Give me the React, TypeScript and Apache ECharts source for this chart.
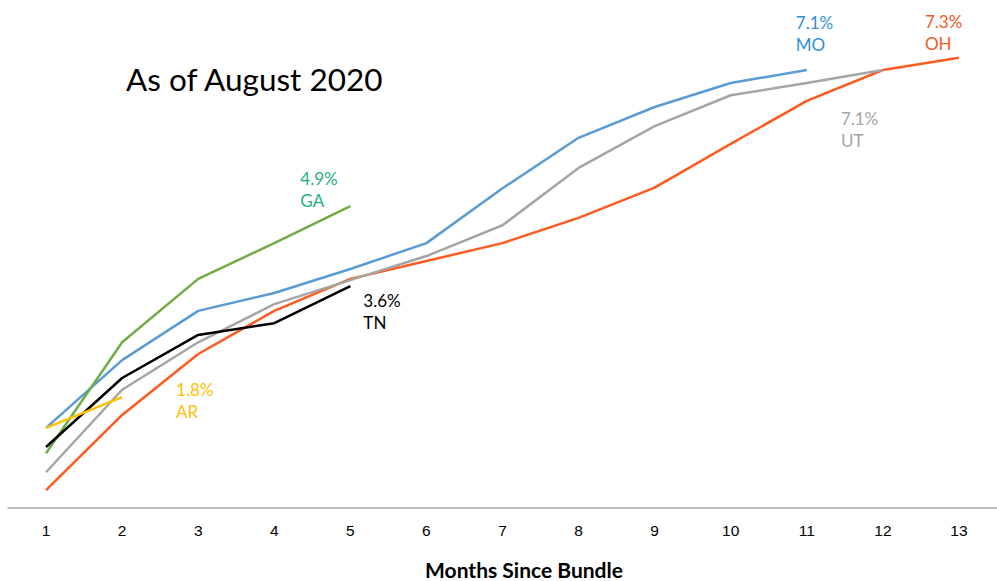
import React, { useEffect, useRef } from "react";
import * as echarts from "echarts";

const months = ["1", "2", "3", "4", "5", "6", "7", "8", "9", "10", "11", "12", "13"];
const stateNames = ["OH", "UT", "MO", "GA", "TN", "AR"];
const ohValues = [0.29, 1.51, 2.5, 3.2, 3.72, 4.01, 4.3, 4.71, 5.2, 5.91, 6.61, 7.11, 7.31];
const utValues = [0.58, 1.92, 2.69, 3.31, 3.7, 4.09, 4.59, 5.52, 6.2, 6.7, 6.9, 7.11];
const moValues = [1.3, 2.4, 3.2, 3.49, 3.88, 4.3, 5.19, 6.01, 6.51, 6.9, 7.11];
const gaValues = [0.89, 2.69, 3.72, 4.3, 4.9];
const tnValues = [0.99, 2.11, 2.81, 3.0, 3.6];
const arValues = [1.3, 1.8];
const endLabels = ["7.3%", "7.1%", "7.1%", "4.9%", "3.6%", "1.8%"];

const lineColors = ["#FF5A1F", "#A5A5A5", "#5B9BD5", "#70AD47", "#000000", "#FFC000"];
const labelColors = ["#F05A28", "#A5A5A5", "#2F8FD8", "#1FAE84", "#000000", "#FFC000"];
const labelOffsets = [[-34, -47], [-42, 37], [-11, -59], [-50, -39], [13, 3], [54, -19]];

export default function App() {
  const ref = useRef<HTMLDivElement>(null);
  useEffect(() => {
    if (!ref.current) return;
    const chart = echarts.init(ref.current, null, { renderer: "svg" });
    const all = [ohValues, utValues, moValues, gaValues, tnValues, arValues];
    const series = all.map((vals, i) => ({
      type: "line",
      name: stateNames[i],
      symbol: "circle",
      symbolSize: 0.01,
      showSymbol: true,
      lineStyle: { color: lineColors[i], width: 2.5 },
      itemStyle: { color: lineColors[i] },
      emphasis: { disabled: true },
      data: vals.map((v, j) =>
        j === vals.length - 1
          ? {
              value: v,
              label: {
                show: true,
                position: labelOffsets[i],
                align: "left",
                verticalAlign: "top",
                formatter: endLabels[i] + "\n" + stateNames[i],
                color: labelColors[i],
                fontFamily: "Lato",
                fontSize: 17,
                lineHeight: 22,
              },
            }
          : v
      ),
    }));
    chart.setOption({
      animation: false,
      grid: { left: 8, right: -6, top: 15.2, bottom: 73 },
      xAxis: {
        type: "category",
        data: months,
        boundaryGap: true,
        axisLine: { lineStyle: { color: "#A6A6A6", width: 1.5 } },
        axisTick: { show: false },
        axisLabel: { color: "#000", fontFamily: "Liberation Sans", fontSize: 15.5, margin: 14 },
      },
      yAxis: {
        type: "value",
        min: 0,
        max: 8,
        show: false,
        splitLine: { show: false },
      },
      graphic: [
        {
          type: "text",
          left: 126,
          top: 63,
          style: { text: "As of August 2020", fontFamily: "Lato", fontSize: 31.5, fill: "#000" },
        },
        {
          type: "text",
          x: 524,
          y: 569,
          style: {
            text: "Months Since Bundle",
            fontFamily: "Lato",
            fontWeight: "bold",
            fontSize: 21,
            fill: "#000",
            align: "center",
            verticalAlign: "middle",
          },
        },
      ],
      series,
    });
    return () => chart.dispose();
  }, []);
  return (
    <div
      ref={ref}
      style={{ position: "fixed", left: 0, top: 0, width: 997, height: 581, background: "#fff" }}
    />
  );
}
